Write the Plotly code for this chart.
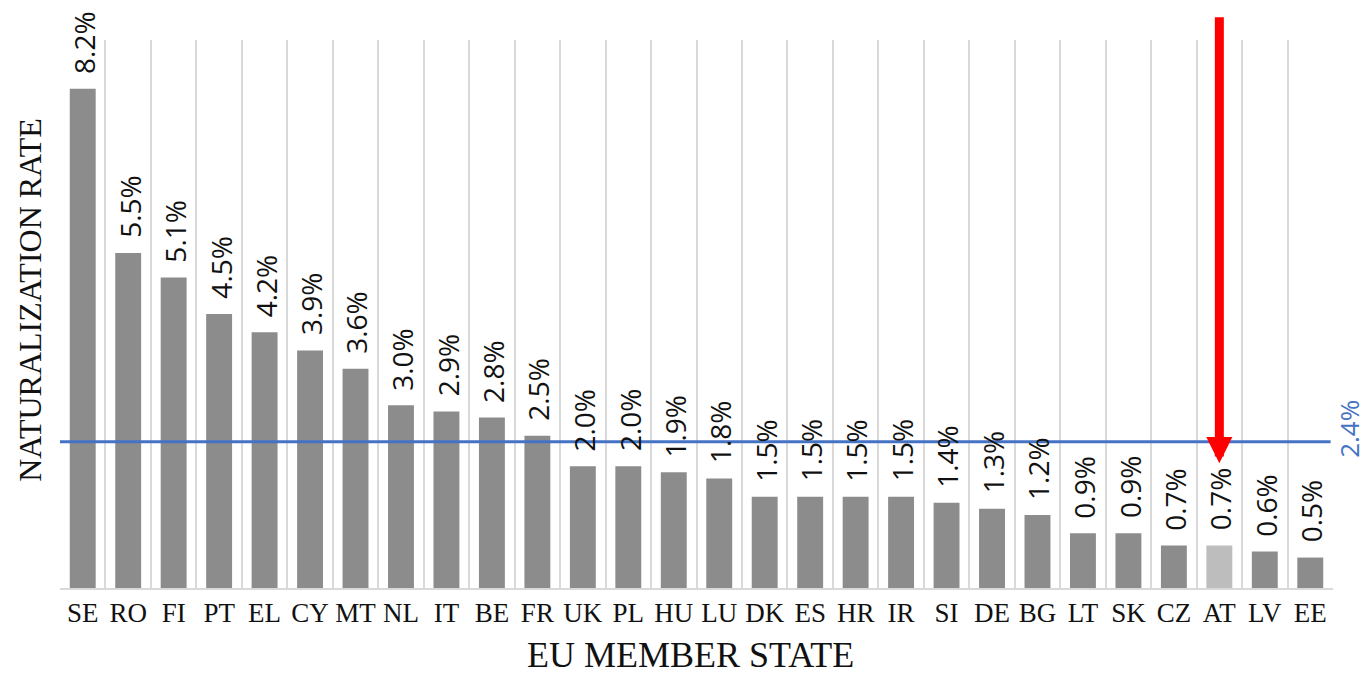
import plotly.graph_objects as go

countries = ["SE", "RO", "FI", "PT", "EL", "CY", "MT", "NL", "IT", "BE", "FR", "UK", "PL", "HU",
             "LU", "DK", "ES", "HR", "IR", "SI", "DE", "BG", "LT", "SK", "CZ", "AT", "LV", "EE"]
rates = [8.2, 5.5, 5.1, 4.5, 4.2, 3.9, 3.6, 3.0, 2.9, 2.8, 2.5, 2.0, 2.0, 1.9,
         1.8, 1.5, 1.5, 1.5, 1.5, 1.4, 1.3, 1.2, 0.9, 0.9, 0.7, 0.7, 0.6, 0.5]
eu_average = 2.4
highlight = "AT"

bar_colors = ["#bdbdbd" if c == highlight else "#8c8c8c" for c in countries]
labels = [f"{v:.1f}%" for v in rates]

fig = go.Figure()
fig.add_trace(go.Bar(
    x=countries, y=rates, marker=dict(color=bar_colors, line=dict(width=0)),
    hoverinfo="skip",
))

# value labels above bars (rotated)
for c, v, t in zip(countries, rates, labels):
    fig.add_annotation(x=c, y=v, xref="x", yref="y", text=t, textangle=-90, showarrow=False,
                       xanchor="center", yanchor="bottom", yshift=13, xshift=1,
                       font=dict(family="Open Sans", size=28, color="#111111"))

fig.add_shape(type="line", xref="paper", yref="y", x0=0, x1=1, y0=eu_average, y1=eu_average,
              line=dict(color="#4472c4", width=3))

fig.add_annotation(xref="paper", yref="y", x=1, y=eu_average, xanchor="left", yanchor="middle",
                   xshift=-3, yshift=13, text=f"{eu_average:.1f}%", textangle=-90, showarrow=False,
                   bgcolor="white", borderpad=0,
                   font=dict(family="Open Sans", size=26, color="#4472c4"))

# red arrow pointing at the highlighted bar
fig.add_annotation(x=highlight, y=2.05, xref="x", yref="y", ax=0, ayref="y", axref="pixel",
                   ay=9.4, showarrow=True, arrowhead=2, arrowsize=0.58, arrowwidth=9,
                   arrowcolor="#ff0000", text="")

fig.add_annotation(xref="paper", yref="paper", x=0, y=0.526, xshift=-30, xanchor="center",
                   yanchor="middle", text="NATURALIZATION RATE", textangle=-90, showarrow=False,
                   font=dict(family="Liberation Serif", size=32, color="#111111"))
fig.add_annotation(xref="paper", yref="paper", x=0.495, y=0, yshift=-67, xanchor="center",
                   yanchor="middle", text="EU MEMBER STATE", showarrow=False,
                   font=dict(family="Liberation Serif", size=36, color="#111111"))

fig.update_layout(
    width=1367, height=674, margin=dict(l=60, r=34, t=40, b=86),
    paper_bgcolor="white", plot_bgcolor="white", bargap=0.43, showlegend=False,
    xaxis=dict(type="category", tickson="boundaries", showgrid=True, gridcolor="#d9d9d9",
               gridwidth=2, ticks="", showline=True, linecolor="#d9d9d9", linewidth=2,
               tickangle=0,
               tickfont=dict(family="Liberation Serif", size=27, color="#111111"),
               automargin=False, fixedrange=True),
    yaxis=dict(range=[0, 9.0], showgrid=False, zeroline=False, showticklabels=False,
               ticks="", showline=False, automargin=False, fixedrange=True),
)

fig.write_html("out.html", config={"displayModeBar": False},
               post_script="document.body.style.margin='0';document.body.style.overflow='hidden';")
